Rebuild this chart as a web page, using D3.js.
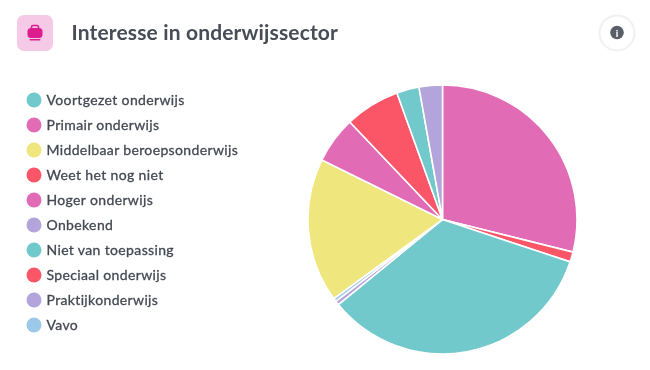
<!DOCTYPE html>
<html><head><meta charset="utf-8">
<script src="https://cdn.jsdelivr.net/npm/d3@7"></script>
<style>
html,body{margin:0;padding:0;background:#fff;width:650px;height:370px;overflow:hidden}
svg{display:block;filter:blur(0.5px)}
text{font-family:Lato,"Noto Sans",sans-serif}
</style></head><body>
<svg id="c" width="650" height="370"></svg>
<script>
const title = "Interesse in onderwijssector";
const legendLabels = ["Voortgezet onderwijs","Primair onderwijs","Middelbaar beroepsonderwijs","Weet het nog niet","Hoger onderwijs","Onbekend","Niet van toepassing","Speciaal onderwijs","Praktijkonderwijs","Vavo"];
const legendColors = ["#72c9cc","#e26bb5","#efe67e","#fb5568","#e26bb5","#b3a4dc","#72c9cc","#fb5568","#b3a4dc","#9cc9ea"];
const sliceLabels = ["Primair onderwijs","Speciaal onderwijs","Voortgezet onderwijs","Praktijkonderwijs","Vavo","Middelbaar beroepsonderwijs","Hoger onderwijs","Weet het nog niet","Niet van toepassing","Onbekend"];
const sliceValues = [28.9,1.2,34.0,0.5,0.4,17.3,5.6,6.6,2.7,2.8];

const svg = d3.select("#c");
const color = d3.scaleOrdinal().domain(legendLabels).range(legendColors);

// header
svg.append("rect").attr("x",17).attr("y",15).attr("width",36).attr("height",36).attr("rx",7).attr("fill","#f6c9e6");
const ic = svg.append("g").attr("transform","translate(35,33)");
ic.append("rect").attr("x",-7.5).attr("y",-5).attr("width",15).attr("height",10).attr("rx",3.5).attr("fill","#dc1d8e");
ic.append("path").attr("d","M-3.5,-5V-6Q-3.5,-7.5 -2,-7.5H2Q3.5,-7.5 3.5,-6V-5").attr("fill","none").attr("stroke","#dc1d8e").attr("stroke-width",1.5);
ic.append("rect").attr("x",-5.5).attr("y",6).attr("width",11).attr("height",1.4).attr("rx",.7).attr("fill","#dc1d8e");
svg.append("text").attr("x",71.5).attr("y",40).attr("font-size",21).attr("font-weight",700).attr("letter-spacing",0.15).attr("fill","#474c56").text(title);

// info button
svg.append("circle").attr("cx",617).attr("cy",33).attr("r",17.5).attr("fill","#fff").attr("stroke","#f0f0f2").attr("stroke-width",2);
svg.append("circle").attr("cx",617).attr("cy",32.5).attr("r",6.8).attr("fill","#5a5e68");
svg.append("text").attr("x",617).attr("y",36.5).attr("text-anchor","middle").attr("font-size",10).attr("font-weight",900).attr("fill","#fff").text("i");

// legend
const y = d3.scalePoint().domain(legendLabels).range([100,325]);
const lg = svg.append("g").selectAll("g").data(legendLabels).join("g").attr("transform",d=>`translate(0,${y(d)})`);
lg.append("circle").attr("cx",34).attr("r",7.5).attr("fill",d=>color(d));
lg.append("text").attr("x",46.5).attr("y",5).attr("font-size",14).attr("letter-spacing",0.36)
  .attr("fill","#434852").attr("stroke","#434852").attr("stroke-width",0.3).text(d=>d);

// pie
const pie = d3.pie().sort(null).value((d,i)=>sliceValues[i]);
const arc = d3.arc().innerRadius(0).outerRadius(134.5);
svg.append("g").attr("transform","translate(442.5,219.5)")
  .selectAll("path").data(pie(sliceLabels)).join("path")
  .attr("d",arc).attr("fill",d=>color(d.data)).attr("stroke","#fff").attr("stroke-width",1.6);
</script></body></html>
